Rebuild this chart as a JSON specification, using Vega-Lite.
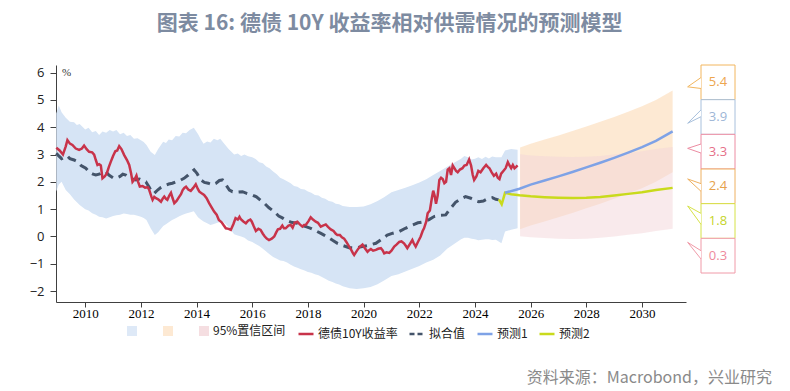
{
  "$schema": "https://vega.github.io/schema/vega-lite/v6.json",
  "autosize": {"type": "pad"},
  "padding": {"left": 29, "top": 12, "right": 5, "bottom": 0},
  "background": "white",
  "config": {"view": {"stroke": null}},
  "title": {"text": "图表 16: 德债 10Y 收益率相对供需情况的预测模型", "fontSize": 21, "font": "Noto Sans CJK SC", "fontWeight": "bold", "color": "#7d8ba1", "anchor": "middle", "offset": 31, "dx": -11},
  "datasets": {
    "ci": [
      {"d": 2008.96, "lo": 1.65, "hi": 4.5}, {"d": 2009.05, "lo": 1.9, "hi": 4.8}, {"d": 2009.15, "lo": 2.0, "hi": 4.55},
      {"d": 2009.3, "lo": 1.7, "hi": 4.35}, {"d": 2009.45, "lo": 1.55, "hi": 4.2}, {"d": 2009.6, "lo": 1.35, "hi": 4.18},
      {"d": 2009.7, "lo": 1.25, "hi": 4.08}, {"d": 2009.8, "lo": 1.15, "hi": 4.12},
      {"d": 2010.0, "lo": 1.0, "hi": 3.92}, {"d": 2010.12, "lo": 0.95, "hi": 3.98}, {"d": 2010.25, "lo": 0.85, "hi": 3.82},
      {"d": 2010.38, "lo": 0.8, "hi": 3.86}, {"d": 2010.5, "lo": 0.72, "hi": 3.72}, {"d": 2010.62, "lo": 0.7, "hi": 3.84}, {"d": 2010.75, "lo": 0.66, "hi": 3.8}, {"d": 2010.88, "lo": 0.7, "hi": 3.9}, {"d": 2011.0, "lo": 0.75, "hi": 3.84},
      {"d": 2011.12, "lo": 0.78, "hi": 3.9}, {"d": 2011.25, "lo": 0.8, "hi": 3.74}, {"d": 2011.38, "lo": 0.84, "hi": 3.8}, {"d": 2011.5, "lo": 0.82, "hi": 3.68}, {"d": 2011.62, "lo": 0.8, "hi": 3.72}, {"d": 2011.75, "lo": 0.8, "hi": 3.58},
      {"d": 2011.88, "lo": 0.76, "hi": 3.6}, {"d": 2012.0, "lo": 0.72, "hi": 3.52}, {"d": 2012.1, "lo": 0.68, "hi": 3.46}, {"d": 2012.2, "lo": 0.6, "hi": 3.35}, {"d": 2012.35, "lo": 0.3, "hi": 3.1},
      {"d": 2012.5, "lo": 0.05, "hi": 2.98}, {"d": 2012.62, "lo": 0.15, "hi": 3.2}, {"d": 2012.8, "lo": 0.38, "hi": 3.47},
      {"d": 2012.9, "lo": 0.45, "hi": 3.42}, {"d": 2013.0, "lo": 0.52, "hi": 3.55}, {"d": 2013.12, "lo": 0.6, "hi": 3.52}, {"d": 2013.25, "lo": 0.67, "hi": 3.68}, {"d": 2013.38, "lo": 0.74, "hi": 3.66}, {"d": 2013.5, "lo": 0.8, "hi": 3.8},
      {"d": 2013.62, "lo": 0.84, "hi": 3.78}, {"d": 2013.75, "lo": 0.88, "hi": 3.9}, {"d": 2013.9, "lo": 0.92, "hi": 3.98}, {"d": 2014.05, "lo": 0.7, "hi": 3.75},
      {"d": 2014.15, "lo": 0.62, "hi": 3.56}, {"d": 2014.25, "lo": 0.55, "hi": 3.4}, {"d": 2014.38, "lo": 0.48, "hi": 3.48}, {"d": 2014.5, "lo": 0.42, "hi": 3.44}, {"d": 2014.62, "lo": 0.46, "hi": 3.58}, {"d": 2014.75, "lo": 0.5, "hi": 3.52},
      {"d": 2014.85, "lo": 0.54, "hi": 3.58}, {"d": 2014.95, "lo": 0.55, "hi": 3.45}, {"d": 2015.15, "lo": 0.35, "hi": 3.2}, {"d": 2015.35, "lo": 0.08, "hi": 3.0},
      {"d": 2015.48, "lo": 0.04, "hi": 3.04}, {"d": 2015.6, "lo": 0.0, "hi": 2.95}, {"d": 2015.72, "lo": -0.05, "hi": 3.0}, {"d": 2015.85, "lo": -0.15, "hi": 2.94}, {"d": 2016.0, "lo": -0.2, "hi": 2.9},
      {"d": 2016.12, "lo": -0.28, "hi": 2.84}, {"d": 2016.25, "lo": -0.35, "hi": 2.72}, {"d": 2016.38, "lo": -0.45, "hi": 2.68}, {"d": 2016.5, "lo": -0.55, "hi": 2.56}, {"d": 2016.62, "lo": -0.65, "hi": 2.5}, {"d": 2016.75, "lo": -0.75, "hi": 2.38},
      {"d": 2016.88, "lo": -0.82, "hi": 2.28}, {"d": 2017.0, "lo": -0.88, "hi": 2.15}, {"d": 2017.12, "lo": -0.9, "hi": 2.1}, {"d": 2017.25, "lo": -0.95, "hi": 2.02}, {"d": 2017.38, "lo": -1.04, "hi": 1.95}, {"d": 2017.5, "lo": -1.1, "hi": 1.85},
      {"d": 2017.62, "lo": -1.15, "hi": 1.82}, {"d": 2017.75, "lo": -1.2, "hi": 1.74}, {"d": 2017.88, "lo": -1.25, "hi": 1.72}, {"d": 2018.0, "lo": -1.3, "hi": 1.65}, {"d": 2018.12, "lo": -1.33, "hi": 1.6}, {"d": 2018.25, "lo": -1.38, "hi": 1.52},
      {"d": 2018.38, "lo": -1.42, "hi": 1.5}, {"d": 2018.5, "lo": -1.48, "hi": 1.42}, {"d": 2018.62, "lo": -1.55, "hi": 1.38}, {"d": 2018.75, "lo": -1.62, "hi": 1.3}, {"d": 2018.88, "lo": -1.67, "hi": 1.27}, {"d": 2019.0, "lo": -1.72, "hi": 1.2},
      {"d": 2019.12, "lo": -1.76, "hi": 1.18}, {"d": 2019.25, "lo": -1.82, "hi": 1.12}, {"d": 2019.5, "lo": -1.9, "hi": 1.08}, {"d": 2019.75, "lo": -1.92, "hi": 1.08},
      {"d": 2020.0, "lo": -1.9, "hi": 1.1}, {"d": 2020.25, "lo": -1.85, "hi": 1.18}, {"d": 2020.5, "lo": -1.75, "hi": 1.3},
      {"d": 2020.75, "lo": -1.6, "hi": 1.45}, {"d": 2021.0, "lo": -1.45, "hi": 1.62}, {"d": 2021.25, "lo": -1.38, "hi": 1.7},
      {"d": 2021.5, "lo": -1.28, "hi": 1.78}, {"d": 2021.75, "lo": -1.18, "hi": 1.88}, {"d": 2022.0, "lo": -1.08, "hi": 1.98},
      {"d": 2022.25, "lo": -0.95, "hi": 2.1}, {"d": 2022.5, "lo": -0.85, "hi": 2.25}, {"d": 2022.75, "lo": -0.7, "hi": 2.4},
      {"d": 2023.0, "lo": -0.45, "hi": 2.55}, {"d": 2023.25, "lo": -0.28, "hi": 2.7}, {"d": 2023.5, "lo": -0.1, "hi": 2.85},
      {"d": 2023.62, "lo": -0.05, "hi": 2.95}, {"d": 2023.75, "lo": -0.05, "hi": 2.9}, {"d": 2023.88, "lo": -0.08, "hi": 2.82}, {"d": 2024.0, "lo": -0.1, "hi": 2.85}, {"d": 2024.12, "lo": -0.14, "hi": 2.9}, {"d": 2024.25, "lo": -0.12, "hi": 2.84},
      {"d": 2024.38, "lo": -0.1, "hi": 2.92}, {"d": 2024.5, "lo": -0.1, "hi": 2.86}, {"d": 2024.62, "lo": -0.13, "hi": 2.93}, {"d": 2024.75, "lo": -0.12, "hi": 2.9}, {"d": 2024.95, "lo": -0.25, "hi": 2.9},
      {"d": 2025.08, "lo": 0.18, "hi": 3.15}, {"d": 2025.3, "lo": 0.25, "hi": 3.2}, {"d": 2025.53, "lo": 0.3, "hi": 3.18}
    ],
    "fb": [
      {"d": 2025.62, "olo": 0.26, "ohi": 3.26, "plo": 0.01, "phi": 3.01},
      {"d": 2026.0, "olo": 0.4, "ohi": 3.4, "plo": -0.03, "phi": 2.97},
      {"d": 2026.5, "olo": 0.55, "ohi": 3.55, "plo": -0.06, "phi": 2.94},
      {"d": 2027.0, "olo": 0.7, "ohi": 3.7, "plo": -0.08, "phi": 2.92},
      {"d": 2027.5, "olo": 0.86, "ohi": 3.86, "plo": -0.09, "phi": 2.91},
      {"d": 2028.0, "olo": 1.03, "ohi": 4.03, "plo": -0.08, "phi": 2.92},
      {"d": 2028.5, "olo": 1.2, "ohi": 4.2, "plo": -0.05, "phi": 2.95},
      {"d": 2029.0, "olo": 1.38, "ohi": 4.38, "plo": 0.0, "phi": 3.0},
      {"d": 2029.5, "olo": 1.57, "ohi": 4.57, "plo": 0.06, "phi": 3.06},
      {"d": 2030.0, "olo": 1.77, "ohi": 4.77, "plo": 0.12, "phi": 3.12},
      {"d": 2030.5, "olo": 2.0, "ohi": 5.0, "plo": 0.2, "phi": 3.2},
      {"d": 2031.1, "olo": 2.35, "ohi": 5.35, "plo": 0.28, "phi": 3.28}
    ],
    "act": [
      {"d": 2008.96, "v": 3.25}, {"d": 2009.08, "v": 3.15}, {"d": 2009.2, "v": 3.0}, {"d": 2009.3, "v": 3.3}, {"d": 2009.36, "v": 3.53},
      {"d": 2009.45, "v": 3.4}, {"d": 2009.54, "v": 3.35}, {"d": 2009.66, "v": 3.22}, {"d": 2009.78, "v": 3.17}, {"d": 2009.88, "v": 3.22},
      {"d": 2009.96, "v": 3.33}, {"d": 2010.05, "v": 3.2}, {"d": 2010.14, "v": 3.1}, {"d": 2010.25, "v": 3.08}, {"d": 2010.32, "v": 3.0},
      {"d": 2010.38, "v": 2.8}, {"d": 2010.44, "v": 2.62}, {"d": 2010.5, "v": 2.65}, {"d": 2010.56, "v": 2.6}, {"d": 2010.62, "v": 2.13},
      {"d": 2010.7, "v": 2.2}, {"d": 2010.77, "v": 2.3}, {"d": 2010.85, "v": 2.55}, {"d": 2010.92, "v": 2.74}, {"d": 2011.0, "v": 2.95},
      {"d": 2011.08, "v": 3.12}, {"d": 2011.15, "v": 3.15}, {"d": 2011.22, "v": 3.31}, {"d": 2011.3, "v": 3.2}, {"d": 2011.4, "v": 2.98},
      {"d": 2011.5, "v": 2.8}, {"d": 2011.58, "v": 2.62}, {"d": 2011.65, "v": 2.3}, {"d": 2011.7, "v": 2.0}, {"d": 2011.78, "v": 2.1},
      {"d": 2011.84, "v": 2.23}, {"d": 2011.9, "v": 2.0}, {"d": 2011.96, "v": 1.83}, {"d": 2012.06, "v": 1.85}, {"d": 2012.15, "v": 1.79},
      {"d": 2012.25, "v": 1.8}, {"d": 2012.3, "v": 1.7}, {"d": 2012.38, "v": 1.45}, {"d": 2012.42, "v": 1.34}, {"d": 2012.48, "v": 1.45},
      {"d": 2012.54, "v": 1.4}, {"d": 2012.62, "v": 1.36}, {"d": 2012.72, "v": 1.27}, {"d": 2012.78, "v": 1.38}, {"d": 2012.84, "v": 1.46},
      {"d": 2012.9, "v": 1.38}, {"d": 2012.95, "v": 1.34}, {"d": 2013.02, "v": 1.5}, {"d": 2013.08, "v": 1.6}, {"d": 2013.14, "v": 1.4},
      {"d": 2013.2, "v": 1.22}, {"d": 2013.28, "v": 1.3}, {"d": 2013.38, "v": 1.46}, {"d": 2013.44, "v": 1.55}, {"d": 2013.5, "v": 1.7},
      {"d": 2013.56, "v": 1.78}, {"d": 2013.62, "v": 1.82}, {"d": 2013.7, "v": 1.72}, {"d": 2013.79, "v": 1.67}, {"d": 2013.88, "v": 1.78},
      {"d": 2013.97, "v": 1.91}, {"d": 2014.04, "v": 1.75}, {"d": 2014.1, "v": 1.64}, {"d": 2014.18, "v": 1.58}, {"d": 2014.27, "v": 1.52},
      {"d": 2014.36, "v": 1.4}, {"d": 2014.45, "v": 1.22}, {"d": 2014.55, "v": 1.05}, {"d": 2014.63, "v": 0.91}, {"d": 2014.72, "v": 0.8},
      {"d": 2014.8, "v": 0.6}, {"d": 2014.9, "v": 0.52}, {"d": 2014.98, "v": 0.4}, {"d": 2015.05, "v": 0.3}, {"d": 2015.15, "v": 0.28},
      {"d": 2015.23, "v": 0.24}, {"d": 2015.32, "v": 0.45}, {"d": 2015.4, "v": 0.67}, {"d": 2015.48, "v": 0.62}, {"d": 2015.54, "v": 0.72},
      {"d": 2015.59, "v": 0.63}, {"d": 2015.68, "v": 0.55}, {"d": 2015.77, "v": 0.48}, {"d": 2015.85, "v": 0.58}, {"d": 2015.93, "v": 0.62},
      {"d": 2015.98, "v": 0.55}, {"d": 2016.05, "v": 0.38}, {"d": 2016.13, "v": 0.2}, {"d": 2016.22, "v": 0.28}, {"d": 2016.3, "v": 0.24},
      {"d": 2016.38, "v": 0.1}, {"d": 2016.45, "v": 0.0}, {"d": 2016.52, "v": -0.08}, {"d": 2016.6, "v": -0.13}, {"d": 2016.7, "v": -0.08},
      {"d": 2016.79, "v": 0.0}, {"d": 2016.86, "v": 0.15}, {"d": 2016.92, "v": 0.26}, {"d": 2017.0, "v": 0.28}, {"d": 2017.08, "v": 0.4},
      {"d": 2017.14, "v": 0.3}, {"d": 2017.2, "v": 0.3}, {"d": 2017.3, "v": 0.4}, {"d": 2017.38, "v": 0.42}, {"d": 2017.45, "v": 0.32},
      {"d": 2017.52, "v": 0.5}, {"d": 2017.62, "v": 0.54}, {"d": 2017.7, "v": 0.45}, {"d": 2017.8, "v": 0.36}, {"d": 2017.86, "v": 0.42},
      {"d": 2017.92, "v": 0.42}, {"d": 2018.02, "v": 0.56}, {"d": 2018.1, "v": 0.7}, {"d": 2018.18, "v": 0.62}, {"d": 2018.28, "v": 0.54},
      {"d": 2018.36, "v": 0.5}, {"d": 2018.46, "v": 0.36}, {"d": 2018.54, "v": 0.4}, {"d": 2018.64, "v": 0.44}, {"d": 2018.72, "v": 0.35},
      {"d": 2018.82, "v": 0.26}, {"d": 2018.92, "v": 0.2}, {"d": 2019.0, "v": 0.1}, {"d": 2019.06, "v": 0.05}, {"d": 2019.15, "v": 0.05},
      {"d": 2019.22, "v": -0.03}, {"d": 2019.3, "v": -0.08}, {"d": 2019.38, "v": -0.2}, {"d": 2019.48, "v": -0.37}, {"d": 2019.56, "v": -0.5},
      {"d": 2019.62, "v": -0.62}, {"d": 2019.66, "v": -0.68}, {"d": 2019.72, "v": -0.58}, {"d": 2019.78, "v": -0.49}, {"d": 2019.86, "v": -0.38},
      {"d": 2019.96, "v": -0.3}, {"d": 2020.04, "v": -0.42}, {"d": 2020.14, "v": -0.56}, {"d": 2020.2, "v": -0.5}, {"d": 2020.26, "v": -0.46},
      {"d": 2020.34, "v": -0.52}, {"d": 2020.44, "v": -0.49}, {"d": 2020.52, "v": -0.45}, {"d": 2020.62, "v": -0.43}, {"d": 2020.68, "v": -0.5},
      {"d": 2020.74, "v": -0.62}, {"d": 2020.82, "v": -0.58}, {"d": 2020.92, "v": -0.6}, {"d": 2021.0, "v": -0.52}, {"d": 2021.1, "v": -0.37},
      {"d": 2021.18, "v": -0.3}, {"d": 2021.28, "v": -0.2}, {"d": 2021.36, "v": -0.18}, {"d": 2021.45, "v": -0.25}, {"d": 2021.52, "v": -0.35},
      {"d": 2021.57, "v": -0.43}, {"d": 2021.66, "v": -0.28}, {"d": 2021.75, "v": -0.13}, {"d": 2021.8, "v": -0.25}, {"d": 2021.87, "v": -0.37},
      {"d": 2021.95, "v": -0.2}, {"d": 2022.05, "v": 0.0}, {"d": 2022.12, "v": 0.2}, {"d": 2022.17, "v": 0.3}, {"d": 2022.25, "v": 0.55},
      {"d": 2022.3, "v": 0.85}, {"d": 2022.38, "v": 0.95}, {"d": 2022.45, "v": 1.4}, {"d": 2022.5, "v": 1.68}, {"d": 2022.55, "v": 1.5},
      {"d": 2022.6, "v": 1.2}, {"d": 2022.66, "v": 1.5}, {"d": 2022.72, "v": 2.07}, {"d": 2022.78, "v": 2.15}, {"d": 2022.84, "v": 2.1},
      {"d": 2022.9, "v": 1.95}, {"d": 2022.96, "v": 2.0}, {"d": 2023.02, "v": 2.45}, {"d": 2023.08, "v": 2.5}, {"d": 2023.14, "v": 2.25},
      {"d": 2023.2, "v": 2.6}, {"d": 2023.26, "v": 2.5}, {"d": 2023.32, "v": 2.4}, {"d": 2023.38, "v": 2.35}, {"d": 2023.46, "v": 2.45},
      {"d": 2023.55, "v": 2.5}, {"d": 2023.62, "v": 2.6}, {"d": 2023.7, "v": 2.62}, {"d": 2023.79, "v": 2.82}, {"d": 2023.86, "v": 2.6},
      {"d": 2023.92, "v": 2.25}, {"d": 2023.97, "v": 2.07}, {"d": 2024.05, "v": 2.2}, {"d": 2024.12, "v": 2.4}, {"d": 2024.2, "v": 2.35},
      {"d": 2024.3, "v": 2.5}, {"d": 2024.4, "v": 2.62}, {"d": 2024.46, "v": 2.55}, {"d": 2024.52, "v": 2.5}, {"d": 2024.6, "v": 2.35},
      {"d": 2024.68, "v": 2.22}, {"d": 2024.76, "v": 2.3}, {"d": 2024.82, "v": 2.15}, {"d": 2024.88, "v": 2.1}, {"d": 2024.94, "v": 2.3},
      {"d": 2025.02, "v": 2.4}, {"d": 2025.1, "v": 2.5}, {"d": 2025.18, "v": 2.72}, {"d": 2025.24, "v": 2.6}, {"d": 2025.3, "v": 2.5},
      {"d": 2025.36, "v": 2.62}, {"d": 2025.42, "v": 2.5}, {"d": 2025.48, "v": 2.55}, {"d": 2025.53, "v": 2.6}
    ],
    "fit": [
      {"d": 2008.96, "v": 3.05}, {"d": 2009.05, "v": 2.95}, {"d": 2009.15, "v": 2.85}, {"d": 2009.25, "v": 2.9}, {"d": 2009.35, "v": 2.95},
      {"d": 2009.45, "v": 2.85}, {"d": 2009.6, "v": 2.8}, {"d": 2009.72, "v": 2.74}, {"d": 2009.85, "v": 2.6}, {"d": 2010.02, "v": 2.5},
      {"d": 2010.15, "v": 2.35}, {"d": 2010.28, "v": 2.28}, {"d": 2010.38, "v": 2.25}, {"d": 2010.5, "v": 2.28}, {"d": 2010.62, "v": 2.35},
      {"d": 2010.74, "v": 2.37}, {"d": 2010.85, "v": 2.25}, {"d": 2011.0, "v": 2.15}, {"d": 2011.1, "v": 2.13}, {"d": 2011.25, "v": 2.2},
      {"d": 2011.35, "v": 2.28}, {"d": 2011.46, "v": 2.25}, {"d": 2011.6, "v": 2.15}, {"d": 2011.72, "v": 2.1}, {"d": 2011.82, "v": 2.07},
      {"d": 2011.95, "v": 2.1}, {"d": 2012.05, "v": 2.05}, {"d": 2012.18, "v": 2.0}, {"d": 2012.3, "v": 1.8}, {"d": 2012.4, "v": 1.62},
      {"d": 2012.48, "v": 1.58}, {"d": 2012.6, "v": 1.7}, {"d": 2012.7, "v": 1.78}, {"d": 2012.78, "v": 1.82}, {"d": 2012.9, "v": 1.88},
      {"d": 2013.0, "v": 1.92}, {"d": 2013.13, "v": 1.95}, {"d": 2013.25, "v": 2.0}, {"d": 2013.4, "v": 2.05}, {"d": 2013.55, "v": 2.13},
      {"d": 2013.7, "v": 2.25}, {"d": 2013.8, "v": 2.35}, {"d": 2013.91, "v": 2.44}, {"d": 2014.02, "v": 2.3}, {"d": 2014.15, "v": 2.07},
      {"d": 2014.28, "v": 1.98}, {"d": 2014.42, "v": 1.95}, {"d": 2014.57, "v": 1.89}, {"d": 2014.7, "v": 1.95}, {"d": 2014.82, "v": 2.05},
      {"d": 2014.93, "v": 2.07}, {"d": 2015.05, "v": 1.9}, {"d": 2015.18, "v": 1.7}, {"d": 2015.29, "v": 1.64}, {"d": 2015.45, "v": 1.62},
      {"d": 2015.65, "v": 1.64}, {"d": 2015.8, "v": 1.58}, {"d": 2016.0, "v": 1.52}, {"d": 2016.15, "v": 1.45}, {"d": 2016.3, "v": 1.32},
      {"d": 2016.43, "v": 1.22}, {"d": 2016.6, "v": 1.05}, {"d": 2016.79, "v": 0.91}, {"d": 2016.95, "v": 0.75}, {"d": 2017.08, "v": 0.68},
      {"d": 2017.2, "v": 0.6}, {"d": 2017.4, "v": 0.52}, {"d": 2017.62, "v": 0.48}, {"d": 2017.8, "v": 0.4}, {"d": 2017.95, "v": 0.35},
      {"d": 2018.1, "v": 0.3}, {"d": 2018.3, "v": 0.2}, {"d": 2018.45, "v": 0.12}, {"d": 2018.58, "v": 0.05}, {"d": 2018.75, "v": -0.05},
      {"d": 2018.9, "v": -0.15}, {"d": 2019.06, "v": -0.25}, {"d": 2019.25, "v": -0.33}, {"d": 2019.48, "v": -0.41}, {"d": 2019.7, "v": -0.42},
      {"d": 2019.96, "v": -0.37}, {"d": 2020.2, "v": -0.32}, {"d": 2020.44, "v": -0.25}, {"d": 2020.65, "v": -0.1}, {"d": 2020.85, "v": 0.05},
      {"d": 2021.05, "v": 0.12}, {"d": 2021.28, "v": 0.18}, {"d": 2021.5, "v": 0.3}, {"d": 2021.75, "v": 0.42}, {"d": 2021.95, "v": 0.5},
      {"d": 2022.17, "v": 0.54}, {"d": 2022.35, "v": 0.62}, {"d": 2022.53, "v": 0.73}, {"d": 2022.75, "v": 0.78}, {"d": 2022.95, "v": 0.79},
      {"d": 2023.1, "v": 1.0}, {"d": 2023.3, "v": 1.25}, {"d": 2023.5, "v": 1.38}, {"d": 2023.66, "v": 1.46}, {"d": 2023.85, "v": 1.4},
      {"d": 2024.0, "v": 1.32}, {"d": 2024.14, "v": 1.27}, {"d": 2024.3, "v": 1.3}, {"d": 2024.45, "v": 1.38}, {"d": 2024.62, "v": 1.42},
      {"d": 2024.75, "v": 1.36}, {"d": 2024.85, "v": 1.34}
    ],
    "p1": [
      {"d": 2025.08, "v": 1.6}, {"d": 2025.6, "v": 1.75}, {"d": 2026.0, "v": 1.9}, {"d": 2026.5, "v": 2.05}, {"d": 2027.0, "v": 2.2},
      {"d": 2027.5, "v": 2.36}, {"d": 2028.0, "v": 2.53}, {"d": 2028.5, "v": 2.7}, {"d": 2029.0, "v": 2.88}, {"d": 2029.5, "v": 3.07},
      {"d": 2030.0, "v": 3.27}, {"d": 2030.5, "v": 3.5}, {"d": 2031.1, "v": 3.85}
    ],
    "p2": [
      {"d": 2024.86, "v": 1.36}, {"d": 2024.96, "v": 1.18}, {"d": 2025.08, "v": 1.6}, {"d": 2025.3, "v": 1.55}, {"d": 2025.6, "v": 1.51},
      {"d": 2026.0, "v": 1.47}, {"d": 2026.5, "v": 1.44}, {"d": 2027.0, "v": 1.42}, {"d": 2027.5, "v": 1.41}, {"d": 2028.0, "v": 1.42},
      {"d": 2028.5, "v": 1.45}, {"d": 2029.0, "v": 1.5}, {"d": 2029.5, "v": 1.56}, {"d": 2030.0, "v": 1.62}, {"d": 2030.5, "v": 1.7},
      {"d": 2031.1, "v": 1.78}
    ],
    "labels": [
      {"lab": "5.4"}, {"lab": "3.9"}, {"lab": "3.3"}, {"lab": "2.4"}, {"lab": "1.8"}, {"lab": "0.3"}
    ]
  },
  "hconcat": [
    {
      "width": 630,
      "height": 237,
      "title": {"text": "资料来源：Macrobond，兴业研究", "orient": "bottom", "anchor": "end", "fontSize": 16, "font": "Noto Sans CJK SC", "fontWeight": "normal", "color": "#8a8a8a", "dx": 86, "offset": 30},
      "layer": [
        {
          "data": {"name": "ci"},
          "mark": {"type": "area", "opacity": 1},
          "encoding": {
            "x": {"field": "d", "type": "quantitative", "scale": {"domain": [2008.95, 2031.58], "nice": false, "zero": false},
                  "axis": {"values": [2010, 2012, 2014, 2016, 2018, 2020, 2022, 2024, 2026, 2028, 2030], "format": "d", "title": null, "grid": false,
                           "labelFont": "Liberation Serif", "labelFontSize": 13, "labelColor": "#000", "tickSize": 5, "labelPadding": 0,
                           "domainColor": "#404040", "tickColor": "#404040", "labelFlush": false, "labelOverlap": false}},
            "y": {"field": "lo", "type": "quantitative", "scale": {"domain": [-2.4, 6.28], "nice": false, "zero": false},
                  "axis": {"values": [-2, -1, 0, 1, 2, 3, 4, 5, 6], "tickCount": 9, "format": "d", "grid": false, "title": "%", "titleAngle": 0, "titleX": 10, "titleY": 7,
                           "titleAlign": "center", "titleBaseline": "middle", "titleFont": "Liberation Serif", "titleFontSize": 11, "titleFontWeight": "normal", "titleColor": "#333",
                           "labelFont": "Open Sans", "labelFontSize": 13, "labelColor": "#222", "tickSize": 6, "labelPadding": 6,
                           "domainColor": "#404040", "tickColor": "#404040", "labelFlush": false, "labelOverlap": false}},
            "y2": {"field": "hi"},
            "fill": {"datum": "b1", "scale": {"domain": ["b1", "b2", "b3"], "range": ["#d6e4f5", "#fce4c8", "#f3d6da"]},
                     "legend": {"orient": "none", "legendX": 70, "legendY": 260, "direction": "horizontal", "title": null, "symbolType": "square",
                                "symbolSize": 100, "symbolOpacity": 0.85, "symbolStrokeWidth": 0,
                                "labelExpr": "datum.value == 'b3' ? '95%置信区间' : ''",
                                "labelFont": "Noto Sans CJK SC", "labelFontSize": 12, "labelColor": "#222", "columnPadding": 21, "labelOffset": 3, "padding": 0}}
          }
        },
        {
          "data": {"name": "fb"},
          "mark": {"type": "area", "opacity": 0.8},
          "encoding": {
            "x": {"field": "d", "type": "quantitative"},
            "y": {"field": "olo", "type": "quantitative"},
            "y2": {"field": "ohi"},
            "fill": {"datum": "b2"}
          }
        },
        {
          "data": {"name": "fb"},
          "mark": {"type": "area", "opacity": 0.5},
          "encoding": {
            "x": {"field": "d", "type": "quantitative"},
            "y": {"field": "plo", "type": "quantitative"},
            "y2": {"field": "phi"},
            "fill": {"datum": "b3"}
          }
        },
        {
          "data": {"name": "fit"},
          "mark": {"type": "line", "strokeWidth": 3, "strokeDash": [9, 6]},
          "encoding": {
            "x": {"field": "d", "type": "quantitative"},
            "y": {"field": "v", "type": "quantitative"},
            "stroke": {"datum": "拟合值", "scale": {"domain": ["德债10Y收益率", "拟合值", "预测1", "预测2"], "range": ["#c8334a", "#44546a", "#7ea2e6", "#c9da1c"]},
                       "legend": {"orient": "none", "legendX": 241, "legendY": 260, "direction": "horizontal", "title": null, "symbolType": "stroke",
                                  "symbolSize": 225, "symbolStrokeWidth": 2.5, "labelFont": "Noto Sans CJK SC", "labelFontSize": 12, "labelColor": "#222",
                                  "columnPadding": 6, "labelOffset": 3, "padding": 0,
                                  "encode": {"symbols": {"update": {"strokeDash": {"signal": "datum.value == '拟合值' ? [5, 3] : [1, 0]"}}}}}}
          }
        },
        {
          "data": {"name": "act"},
          "mark": {"type": "line", "strokeWidth": 2.5},
          "encoding": {
            "x": {"field": "d", "type": "quantitative"},
            "y": {"field": "v", "type": "quantitative"},
            "stroke": {"datum": "德债10Y收益率"}
          }
        },
        {
          "data": {"name": "p2"},
          "mark": {"type": "line", "strokeWidth": 2.5},
          "encoding": {
            "x": {"field": "d", "type": "quantitative"},
            "y": {"field": "v", "type": "quantitative"},
            "stroke": {"datum": "预测2"}
          }
        },
        {
          "data": {"name": "p1"},
          "mark": {"type": "line", "strokeWidth": 2.5},
          "encoding": {
            "x": {"field": "d", "type": "quantitative"},
            "y": {"field": "v", "type": "quantitative"},
            "stroke": {"datum": "预测1"}
          }
        }
      ]
    },
    {
      "width": 34,
      "height": 208,
      "data": {"name": "labels"},
      "encoding": {
        "y": {"field": "lab", "type": "ordinal", "sort": null, "axis": null, "scale": {"paddingInner": 0, "paddingOuter": 0}}
      },
      "layer": [
        {
          "mark": {"type": "rect", "fill": "white", "strokeWidth": 1},
          "encoding": {
            "x": {"datum": 0, "type": "quantitative", "scale": {"domain": [0, 1], "nice": false, "zero": false}, "axis": null},
            "x2": {"datum": 1},
            "stroke": {"field": "lab", "type": "nominal", "scale": {"domain": ["5.4", "3.9", "3.3", "2.4", "1.8", "0.3"], "range": ["#f2b65e", "#a8c0dc", "#ec8ca2", "#eeb060", "#d6e246", "#f09aa8"]}, "legend": null}
          }
        },
        {
          "mark": {"type": "point", "filled": false, "fill": "white", "strokeWidth": 1, "size": 900, "opacity": 1},
          "encoding": {
            "x": {"datum": 0, "type": "quantitative"},
            "shape": {"field": "lab", "type": "nominal", "scale": {"domain": ["5.4", "3.9", "3.3", "2.4", "1.8", "0.3"],
                      "range": ["M 0 -0.32 L -0.89 0.3 L 0 0.41", "M 0 -0.47 L -0.89 0.42 L 0 -0.02", "M 0 -0.51 L -0.89 -0.22 L 0 0.09",
                                "M 0 -0.18 L -0.89 -0.49 L 0 0.33", "M 0 -0.51 L -0.89 -1.0 L 0 0.22", "M 0 -0.33 L -0.89 -0.89 L 0 0.22"]}, "legend": null},
            "stroke": {"field": "lab", "type": "nominal", "legend": null}
          }
        },
        {
          "mark": {"type": "text", "fontSize": 13, "font": "Open Sans"},
          "encoding": {
            "x": {"datum": 0.5, "type": "quantitative"},
            "text": {"field": "lab"},
            "color": {"field": "lab", "type": "nominal", "scale": {"domain": ["5.4", "3.9", "3.3", "2.4", "1.8", "0.3"], "range": ["#eda64e", "#9db6d6", "#e6708a", "#e6a24c", "#c5d42a", "#ee8a9c"]}, "legend": null}
          }
        }
      ]
    }
  ],
  "spacing": 15,
  "bounds": "flush",
  "resolve": {"scale": {"x": "independent", "y": "independent", "stroke": "independent", "fill": "independent", "color": "independent", "shape": "independent"}, "legend": {"stroke": "independent", "fill": "independent", "color": "independent", "shape": "independent"}}
}
